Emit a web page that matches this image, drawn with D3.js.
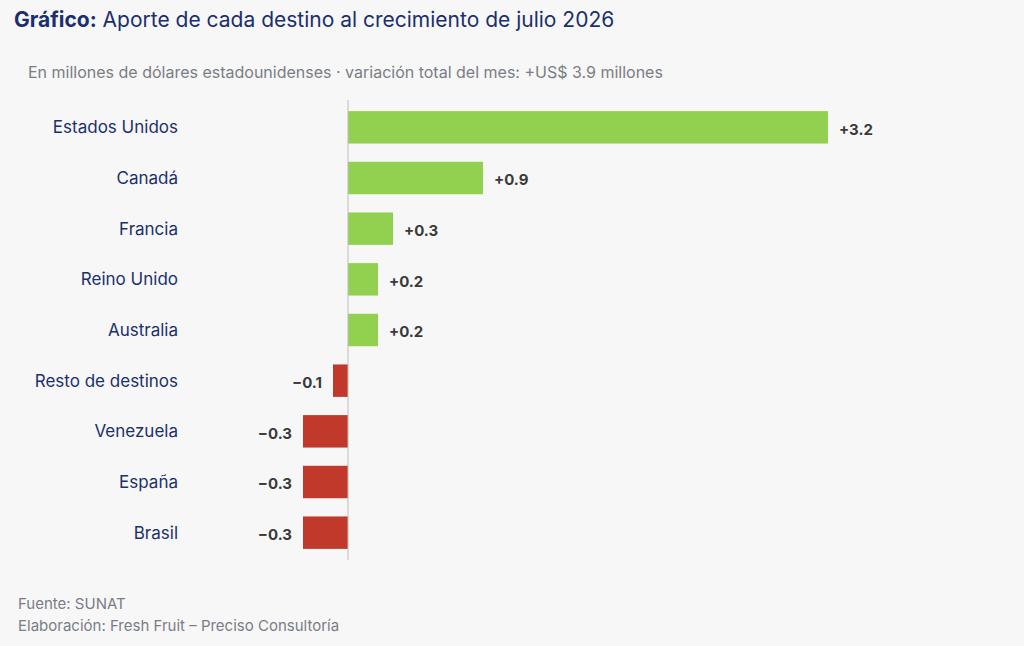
<!DOCTYPE html>
<html><head><meta charset="utf-8">
<script src="https://cdn.jsdelivr.net/npm/d3@7"></script>
<style>
body{margin:0;background:#f7f7f7;font-family:Inter,"Open Sans",sans-serif;}
</style></head><body>
<script>
const countries = ["Estados Unidos","Canadá","Francia","Reino Unido","Australia","Resto de destinos","Venezuela","España","Brasil"];
const values = [3.2,0.9,0.3,0.2,0.2,-0.1,-0.3,-0.3,-0.3];

const W = 1024, H = 646;
const svg = d3.select("body").append("svg").attr("width", W).attr("height", H);
svg.append("rect").attr("width", W).attr("height", H).attr("fill", "#f7f7f7");

// title
const t = svg.append("text").attr("x", 14).attr("y", 27).attr("font-size", 21).attr("fill", "#1b2f6e");
t.append("tspan").attr("font-weight", 700).text("Gráfico:");
t.append("tspan").text(" Aporte de cada destino al crecimiento de julio 2026");

svg.append("text").attr("x", 28).attr("y", 78).attr("font-size", 16).attr("fill", "#7a7d85")
  .text("En millones de dólares estadounidenses · variación total del mes: +US$ 3.9 millones");

const x = d3.scaleLinear().domain([0, 3.2]).range([348, 828]);
const y = d3.scaleBand().domain(countries).range([102, 558]).paddingInner(0.36).paddingOuter(0.18);

svg.selectAll("rect.bar").data(countries).join("rect").attr("class", "bar")
  .attr("x", (d, i) => Math.min(x(0), x(values[i])))
  .attr("width", (d, i) => Math.abs(x(values[i]) - x(0)))
  .attr("y", d => y(d)).attr("height", y.bandwidth())
  .attr("fill", (d, i) => values[i] >= 0 ? "#92d050" : "#c0392b");

svg.append("line").attr("x1", x(0)).attr("x2", x(0)).attr("y1", 100).attr("y2", 560)
  .attr("stroke", "#bdbdbd").attr("stroke-width", 1);

svg.selectAll("text.cat").data(countries).join("text").attr("class", "cat")
  .attr("x", 178).attr("y", d => y(d) + y.bandwidth() / 2).attr("dy", "0.35em")
  .attr("text-anchor", "end").attr("font-size", 17).attr("fill", "#1b2f6e").text(d => d);

svg.selectAll("text.val").data(countries).join("text").attr("class", "val")
  .attr("x", (d, i) => values[i] >= 0 ? x(values[i]) + 11 : x(values[i]) - 11)
  .attr("y", d => y(d) + y.bandwidth() / 2 + 2).attr("dy", "0.35em")
  .attr("text-anchor", (d, i) => values[i] >= 0 ? "start" : "end")
  .attr("font-size", 15).attr("font-weight", 700).attr("fill", "#3a3a3a")
  .text((d, i) => (values[i] >= 0 ? "+" : "−") + Math.abs(values[i]).toFixed(1));

svg.append("text").attr("x", 18).attr("y", 609).attr("font-size", 15).attr("fill", "#7a7d85").text("Fuente: SUNAT");
svg.append("text").attr("x", 18).attr("y", 631).attr("font-size", 15).attr("fill", "#7a7d85").text("Elaboración: Fresh Fruit – Preciso Consultoría");
</script>
</body></html>
